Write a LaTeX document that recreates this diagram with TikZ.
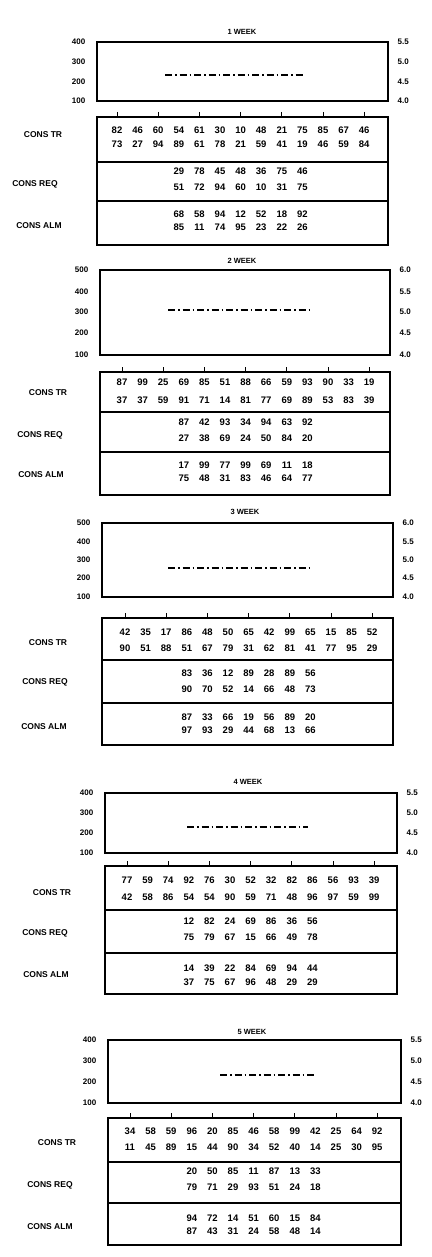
\documentclass[tikz,border=0pt]{standalone}
\usepackage{fontspec}
\setmainfont{Liberation Sans}
\tikzset{
  lab/.style={font=\bfseries\fontsize{8}{8}\selectfont, inner sep=0.5pt},
  rowlab/.style={font=\bfseries\fontsize{8.5}{8.5}\selectfont, inner sep=0.5pt},
  num/.style={font=\bfseries\fontsize{9.5}{9.5}\selectfont, inner sep=0pt},
  ttl/.style={font=\bfseries\fontsize{7.5}{7.5}\selectfont, inner sep=1pt},
  boxn/.style={draw, line width=1.2pt, inner sep=0pt, outer sep=0pt},
  frame/.style={line width=1.2pt},
  dataline/.style={line width=1.3pt, dash pattern=on 7pt off 3pt on 1.5pt off 3pt},
  tickline/.style={line width=1pt},
}
\newcommand\DrawPanel[1]{%
  \node[ttl] (#1title) at (\Tx,\Ty) {\Ttl};
  \pgfmathsetmacro\cw{\CR-\CL}%
  \pgfmathsetmacro\ch{\Cbot-\Ctop}%
  \node[boxn, minimum width=\cw pt, minimum height=\ch pt, anchor=north west] (#1chart) at (\CL,\Ctop) {};
  \foreach \v/\yy [count=\i] in \LabL {\node[lab,anchor=east] (#1L\i) at (\CL-11,\yy) {\v};}
  \foreach \v/\yy [count=\i] in \LabR {\node[lab,anchor=west] (#1R\i) at (\CR+9,\yy) {\v};}
  \coordinate (#1da) at (\Da,\Dy);
  \coordinate (#1db) at (\Db,\Dy);
  \draw[dataline] (#1da) -- (#1db);
  \pgfmathsetmacro\th{\Tb-\Tt}%
  \node[boxn, minimum width=\cw pt, minimum height=\th pt, anchor=north west] (#1tab) at (\CL,\Tt) {};
  \coordinate (#1sa) at (\CL,\Sa);
  \coordinate (#1sb) at (\CL,\Sb);
  \draw[frame] (#1sa) -- (#1sa -| #1tab.east);
  \draw[frame] (#1sb) -- (#1sb -| #1tab.east);
  \foreach \k in {0,...,6} {%
    \pgfmathsetmacro\xx{\Cz+41.2*\k}%
    \coordinate (#1k\k) at (\xx,\Tt-5);
    \draw[tickline] (#1k\k) -- (#1k\k |- #1tab.north);
  }
  \foreach \i in {0,...,12} {%
    \pgfmathsetmacro\xx{\Cz+20.6*\i}%
    \pgfmathtruncatemacro\va{random(10,99)}%
    \pgfmathtruncatemacro\vb{random(10,99)}%
    \node[num] (#1a\i) at (\xx,\Ra) {\va};
    \node[num] (#1b\i) at (\xx,\Rb) {\vb};
  }
  \foreach \j in {0,...,6} {%
    \pgfmathsetmacro\xx{\Cz+20.6*(\j+3)}%
    \pgfmathtruncatemacro\va{random(10,99)}%
    \pgfmathtruncatemacro\vb{random(10,99)}%
    \pgfmathtruncatemacro\vc{random(10,99)}%
    \pgfmathtruncatemacro\vd{random(10,99)}%
    \node[num] (#1c\j) at (\xx,\Rc) {\va};
    \node[num] (#1d\j) at (\xx,\Rd) {\vb};
    \node[num] (#1e\j) at (\xx,\Re) {\vc};
    \node[num] (#1f\j) at (\xx,\Rf) {\vd};
  }
  \node[rowlab] (#1rowa) at (\Xa,\Ya) {CONS TR};
  \node[rowlab] (#1rowb) at (\Xb,\Yb) {CONS REQ};
  \node[rowlab] (#1rowc) at (\Xc,\Yc) {CONS ALM};
}
\begin{document}
\begin{tikzpicture}[x=1pt,y=-1pt]
\useasboundingbox (0,0) rectangle (431,1257);
\pgfmathsetseed{12}
% ---------- panel 1
\def\Ttl{1 WEEK}\def\Tx{242}\def\Ty{32}
\def\CL{97}\def\CR{388}\def\Ctop{42}\def\Cbot{101}
\def\LabL{400/42,300/62,200/82,100/101}
\def\LabR{5.5/42,5.0/62,4.5/82,4.0/101}
\def\Da{165}\def\Db{305}\def\Dy{75}
\def\Tt{117}\def\Tb{245}\def\Sa{162}\def\Sb{201}
\def\Ra{130}\def\Rb{144}\def\Rc{171}\def\Rd{187}\def\Re{214}\def\Rf{227}
\def\Cz{117}
\def\Xa{43}\def\Ya{135}\def\Xb{35}\def\Yb{184}\def\Xc{39}\def\Yc{226}
\DrawPanel{p1}
% ---------- panel 2
\def\Ttl{2 WEEK}\def\Tx{242}\def\Ty{261}
\def\CL{100}\def\CR{390}\def\Ctop{270}\def\Cbot{355}
\def\LabL{500/270,400/292,300/312,200/333,100/355}
\def\LabR{6.0/270,5.5/292,5.0/312,4.5/333,4.0/355}
\def\Da{168}\def\Db{313}\def\Dy{310}
\def\Tt{372}\def\Tb{495}\def\Sa{412}\def\Sb{452}
\def\Ra{382}\def\Rb{400}\def\Rc{422}\def\Rd{438}\def\Re{465}\def\Rf{478}
\def\Cz{122}
\def\Xa{48}\def\Ya{393}\def\Xb{40}\def\Yb{435}\def\Xc{41}\def\Yc{475}
\DrawPanel{p2}
% ---------- panel 3
\def\Ttl{3 WEEK}\def\Tx{245}\def\Ty{512}
\def\CL{102}\def\CR{393}\def\Ctop{523}\def\Cbot{597}
\def\LabL{500/523,400/542,300/560,200/578,100/597}
\def\LabR{6.0/523,5.5/542,5.0/560,4.5/578,4.0/597}
\def\Da{168}\def\Db{310}\def\Dy{568}
\def\Tt{618}\def\Tb{745}\def\Sa{660}\def\Sb{703}
\def\Ra{632}\def\Rb{648}\def\Rc{673}\def\Rd{689}\def\Re{717}\def\Rf{730}
\def\Cz{125}
\def\Xa{48}\def\Ya{643}\def\Xb{45}\def\Yb{682}\def\Xc{44}\def\Yc{727}
\DrawPanel{p3}
% ---------- panel 4
\def\Ttl{4 WEEK}\def\Tx{248}\def\Ty{782}
\def\CL{105}\def\CR{397}\def\Ctop{793}\def\Cbot{853}
\def\LabL{400/793,300/813,200/833,100/853}
\def\LabR{5.5/793,5.0/813,4.5/833,4.0/853}
\def\Da{187}\def\Db{308}\def\Dy{827}
\def\Tt{866}\def\Tb{994}\def\Sa{910}\def\Sb{953}
\def\Ra{880}\def\Rb{897}\def\Rc{921}\def\Rd{937}\def\Re{968}\def\Rf{982}
\def\Cz{127}
\def\Xa{52}\def\Ya{893}\def\Xb{45}\def\Yb{933}\def\Xc{46}\def\Yc{975}
\DrawPanel{p4}
% ---------- panel 5
\def\Ttl{5 WEEK}\def\Tx{252}\def\Ty{1032}
\def\CL{108}\def\CR{401}\def\Ctop{1040}\def\Cbot{1103}
\def\LabL{400/1040,300/1061,200/1082,100/1103}
\def\LabR{5.5/1040,5.0/1061,4.5/1082,4.0/1103}
\def\Da{220}\def\Db{317}\def\Dy{1075}
\def\Tt{1118}\def\Tb{1245}\def\Sa{1162}\def\Sb{1203}
\def\Ra{1131}\def\Rb{1147}\def\Rc{1171}\def\Rd{1187}\def\Re{1218}\def\Rf{1231}
\def\Cz{130}
\def\Xa{57}\def\Ya{1143}\def\Xb{50}\def\Yb{1185}\def\Xc{50}\def\Yc{1227}
\DrawPanel{p5}
\end{tikzpicture}
\end{document}
